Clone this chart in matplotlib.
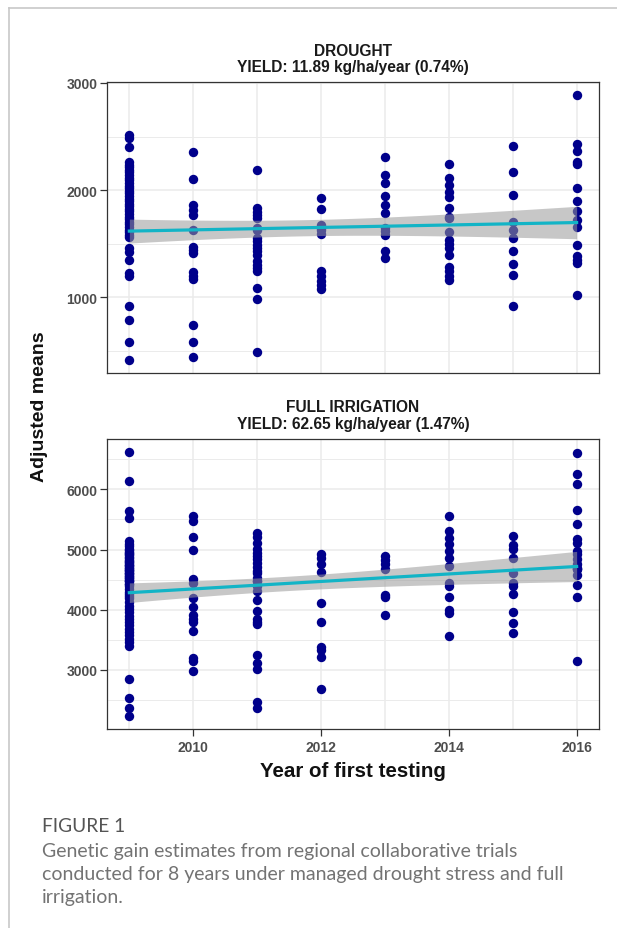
"""Genetic gain scatter: drought vs full irrigation, adjusted means by year of first testing."""

import matplotlib
matplotlib.use("Agg")
import matplotlib.pyplot as plt
import numpy as np
from matplotlib.lines import Line2D

# ---- data (adjusted means, kg/ha) ----
YEARS = [2009, 2010, 2011, 2012, 2013, 2014, 2015, 2016]

DROUGHT = {
    2009: [2510, 2488, 2404, 2262, 2238, 2215, 2190, 2168, 2141, 2117, 2090, 2066,
           2043, 2018, 1994, 1969, 1946, 1921, 1897, 1872, 1850, 1826, 1801, 1778,
           1752, 1729, 1704, 1681, 1655, 1632, 1607, 1583, 1560, 1459, 1422, 1350,
           1226, 1195, 922, 792, 581, 417],
    2010: [2358, 2100, 1862, 1815, 1769, 1629, 1474, 1443, 1412, 1233, 1195, 1174,
           746, 581, 445],
    2011: [2187, 1831, 1800, 1769, 1738, 1645, 1629, 1552, 1521, 1490, 1459, 1428,
           1397, 1335, 1304, 1273, 1242, 1087, 988, 492],
    2012: [1930, 1825, 1676, 1651, 1629, 1589, 1242, 1195, 1149, 1118, 1078],
    2013: [2311, 2141, 2063, 1946, 1862, 1784, 1645, 1614, 1583, 1434, 1366],
    2014: [2240, 2110, 2048, 1986, 1939, 1837, 1753, 1738, 1608, 1536, 1496, 1459,
           1397, 1279, 1242, 1195, 1164],
    2015: [2414, 2166, 1955, 1707, 1629, 1552, 1428, 1310, 1211, 916],
    2016: [2885, 2426, 2364, 2265, 2240, 2017, 1899, 1806, 1722, 1654, 1484, 1381,
           1350, 1319, 1025],
}

# dense columns hide overlapping points, so some values sit on top of others
FULL_IRRIGATION = {
    2009: [6620, 6141, 5646, 5525, 5139, 5084, 5057, 5010, 4985, 4965, 4940, 4921,
           4905, 4875, 4860, 4830, 4815, 4788, 4770, 4745, 4741, 4720, 4697, 4690,
           4665, 4652, 4640, 4610, 4610, 4585, 4563, 4560, 4530, 4519, 4500, 4474,
           4470, 4430, 4430, 4386, 4341, 4296, 4252, 4231, 4188, 4121, 4066, 4011,
           3957, 3901, 3846, 3791, 3737, 3681, 3626, 3571, 3516, 3461, 3395, 2839,
           2536, 2371, 2233],
    2010: [5552, 5470, 5205, 4991, 4506, 4440, 4193, 4039, 3912, 3846, 3791, 3637,
           3196, 3141, 2976],
    2011: [5277, 5211, 5112, 5013, 4947, 4900, 4837, 4780, 4716, 4650, 4617, 4534,
           4479, 4470, 4396, 4314, 4165, 3983, 3846, 3791, 3763, 3240, 3119, 3004,
           2470, 2371],
    2012: [4919, 4864, 4754, 4627, 4110, 3802, 3378, 3323, 3213, 2679],
    2013: [4892, 4826, 4754, 4672, 4242, 4204, 3912],
    2014: [5552, 5304, 5194, 5084, 4974, 4864, 4727, 4440, 4385, 4204, 3994, 3939,
           3554],
    2015: [5222, 5068, 5002, 4864, 4617, 4440, 4396, 4259, 3967, 3774, 3609],
    2016: [6598, 6257, 6091, 5662, 5426, 5167, 5112, 4980, 4919, 4850, 4754, 4700,
           4672, 4670, 4572, 4407, 4204, 3141],
}

PANEL_TITLES = [
    "DROUGHT\nYIELD: 11.89 kg/ha/year (0.74%)",
    "FULL IRRIGATION\nYIELD: 62.65 kg/ha/year (1.47%)",
]
Y_MAJOR = [[1000, 2000, 3000], [3000, 4000, 5000, 6000]]
Y_MINOR = [[500, 1500, 2500], [2500, 3500, 4500, 5500, 6500]]
X_TICKS = [2010, 2012, 2014, 2016]

CAPTION_HEAD = "FIGURE 1"
CAPTION_LINES = [
    "Genetic gain estimates from regional collaborative trials",
    "conducted for 8 years under managed drought stress and full",
    "irrigation.",
]

POINT_COLOR = "#00008B"
LINE_COLOR = "#12B4C6"
BAND_COLOR = "#9A9A9A"
GRID_COLOR = "#EBEBEB"
FRAME_COLOR = "#333333"
TICK_TEXT = "#4D4D4D"

plt.rcParams["font.family"] = ["Liberation Sans", "DejaVu Sans"]


def flatten(groups):
    xs, ys = [], []
    for year in YEARS:
        xs.extend([year] * len(groups[year]))
        ys.extend(groups[year])
    return np.array(xs, float), np.array(ys, float)


def draw_panel(ax, groups, title, y_major, y_minor, show_x):
    x, y = flatten(groups)

    # linear fit with 95% confidence band (same as geom_smooth(method="lm"))
    slope, intercept = np.polyfit(x, y, 1)
    xs = np.linspace(min(YEARS), max(YEARS), 100)
    fit = intercept + slope * xs
    resid = y - (intercept + slope * x)
    n = len(x)
    s = np.sqrt(np.sum(resid ** 2) / (n - 2))
    se = s * np.sqrt(1 / n + (xs - x.mean()) ** 2 / np.sum((x - x.mean()) ** 2))

    ax.scatter(x, y, s=46, color=POINT_COLOR, linewidths=0, zorder=3)
    ax.fill_between(xs, fit - 1.98 * se, fit + 1.98 * se, color=BAND_COLOR,
                    alpha=0.55, linewidth=0, zorder=4)
    ax.plot(xs, fit, color=LINE_COLOR, linewidth=2.3, zorder=5)

    span = max(YEARS) - min(YEARS)
    ax.set_xlim(min(YEARS) - 0.05 * span, max(YEARS) + 0.05 * span)
    yr = y.max() - y.min()
    ax.set_ylim(y.min() - 0.05 * yr, y.max() + 0.05 * yr)

    # grid: every year vertically, major + minor horizontally
    for year in YEARS:
        ax.axvline(year, color=GRID_COLOR, linewidth=1.1, zorder=0)
    for v in y_major:
        ax.axhline(v, color=GRID_COLOR, linewidth=1.1, zorder=0)
    for v in y_minor:
        ax.axhline(v, color=GRID_COLOR, linewidth=0.7, zorder=0)

    ax.set_yticks(y_major)
    ax.tick_params(axis="y", length=5, width=0.9, color=FRAME_COLOR,
                   labelsize=10, labelcolor=TICK_TEXT, pad=2)
    for lab in ax.get_yticklabels():
        lab.set_fontweight("bold")
    if show_x:
        ax.set_xticks(X_TICKS)
        ax.tick_params(axis="x", length=5, width=0.9, color=FRAME_COLOR,
                       labelsize=10, labelcolor=TICK_TEXT, pad=3)
        for lab in ax.get_xticklabels():
            lab.set_fontweight("bold")
    else:
        ax.set_xticks([])

    for spine in ax.spines.values():
        spine.set_color(FRAME_COLOR)
        spine.set_linewidth(0.9)

    ax.set_title(title, fontsize=11.2, fontweight="bold", color="#1a1a1a",
                 linespacing=1.12, pad=8)


fig = plt.figure(figsize=(6.17, 9.29), dpi=100)
ax_top = fig.add_axes([0.1734, 0.5974, 0.7974, 0.3132])
ax_bot = fig.add_axes([0.1734, 0.2142, 0.7974, 0.3122])

draw_panel(ax_top, DROUGHT, PANEL_TITLES[0], Y_MAJOR[0], Y_MINOR[0], False)
draw_panel(ax_bot, FULL_IRRIGATION, PANEL_TITLES[1], Y_MAJOR[1], Y_MINOR[1], True)

fig.text(0.5721, 1 - 772 / 929, "Year of first testing", ha="center", va="center",
         fontsize=14.8, fontweight="bold", color="#111111")
fig.text(40 / 617, 1 - 407 / 929, "Adjusted means", ha="center", va="center",
         rotation=90, fontsize=14, fontweight="bold", color="#111111")

# page frame lines (left and top)
fig.add_artist(Line2D([9 / 617, 9 / 617], [0, 1 - 9 / 929], color="#C8C8C8",
                      linewidth=1.2, transform=fig.transFigure))
fig.add_artist(Line2D([9 / 617, 1], [1 - 9 / 929, 1 - 9 / 929], color="#C8C8C8",
                      linewidth=1.2, transform=fig.transFigure))

caption_font = ["Lato", "DejaVu Sans"]
fig.text(42 / 617, 1 - 826 / 929, CAPTION_HEAD, ha="left", va="center",
         fontsize=13.8, color="#555555", family=caption_font)
for i, line in enumerate(CAPTION_LINES):
    fig.text(42 / 617, 1 - (852 + 23 * i) / 929, line, ha="left", va="center",
             fontsize=14, color="#737373", family=caption_font)

fig.savefig("out.png", dpi=100)
